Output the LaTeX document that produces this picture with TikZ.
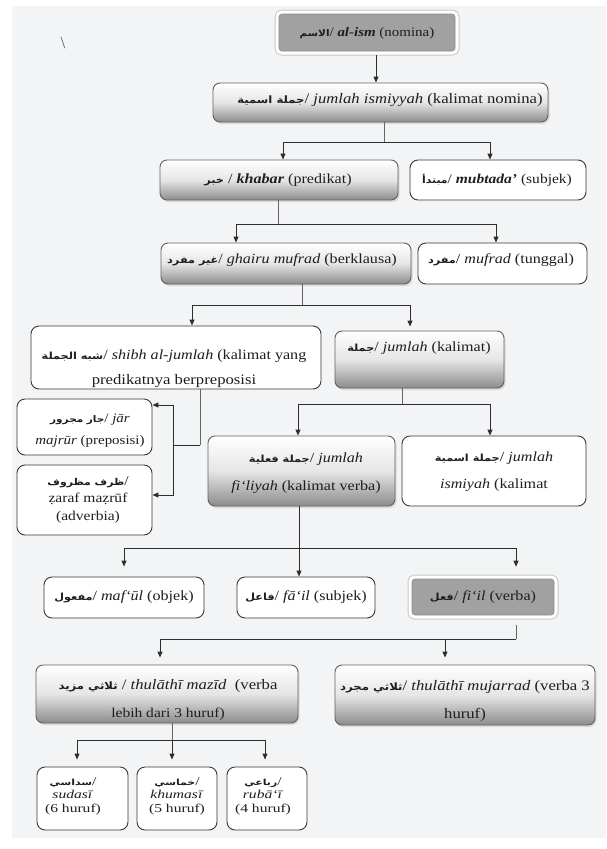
\documentclass[tikz,border=0pt]{standalone}
\usepackage{fontspec}
\usepackage{graphicx}
\setmainfont{Liberation Serif}
\newfontfamily\arabicfont[Script=Arabic,Scale=0.7]{DejaVu Sans}
\TeXXeTstate=1
\usetikzlibrary{arrows.meta,shadows}
\newcommand{\arb}[1]{{\arabicfont\bfseries\beginR #1\endR}}
\newcommand{\hx}[2][1.15]{\scalebox{#1}[1]{\begin{tabular}{@{}c@{}}#2\end{tabular}}}
\newcommand{\fs}[2]{\fontsize{#1}{#2}\selectfont}
\definecolor{bgc}{RGB}{243,244,245}
\definecolor{ink}{RGB}{30,30,30}
\begin{document}
\begin{tikzpicture}[x=1pt,y=-1pt,
  wbox/.style={draw=black!78, fill=white, rounded corners=8pt, line width=0.9pt, inner sep=0pt},
  gbox/.style={draw=black!62, rounded corners=7pt, line width=0.9pt, inner sep=0pt,
    top color=white, bottom color=black!45, middle color=black!10,
    drop shadow={shadow xshift=1.5pt, shadow yshift=-2pt, opacity=0.22}},
  dbox/.style={draw=black!45, fill=black!37, rounded corners=3pt, line width=0.6pt, inner sep=0pt,
    preaction={draw=black!22, line width=9pt}, preaction={draw=white, line width=7pt}},
  lnk/.style={draw=black!82, line width=0.9pt},
  stem/.style={draw=black!60, line width=0.9pt},
  arr/.style={lnk, -{Triangle[length=6pt,width=5pt]}},
  txt/.style={inner sep=0pt, text=ink}]
\useasboundingbox (0,0) rectangle (606,849);
\fill[white] (0,0) rectangle (606,849);
\fill[bgc] (12,6) rectangle (606,838);

\node[txt, text=black!65, font=\fs{17}{18}] (mark) at (63,43) {\textbackslash};

% boxes
\node[dbox, minimum width=176pt, minimum height=37pt] (alism) at (367,32.5) {};
\node[gbox, minimum width=335pt, minimum height=39pt] (jism) at (380.5,102.5) {};
\node[gbox, minimum width=238pt, minimum height=40pt] (khabar) at (279,180) {};
\node[wbox, minimum width=176pt, minimum height=40pt] (mubtada) at (498,180) {};
\node[gbox, minimum width=250pt, minimum height=41pt] (ghairu) at (286,263.5) {};
\node[wbox, minimum width=169pt, minimum height=41pt] (mufrad) at (502.5,263.5) {};
\node[wbox, minimum width=290pt, minimum height=63pt] (shibh) at (176,357.5) {};
\node[gbox, minimum width=169pt, minimum height=57pt] (jumlah) at (419.5,359.5) {};
\node[wbox, minimum width=135pt, minimum height=56pt] (jar) at (84.5,427) {};
\node[wbox, minimum width=135pt, minimum height=70pt] (zaraf) at (84.5,500) {};
\node[gbox, minimum width=187pt, minimum height=70pt] (filiyah) at (301.5,471) {};
\node[wbox, minimum width=184pt, minimum height=70pt] (ismiyah) at (494,471) {};
\node[wbox, minimum width=160pt, minimum height=41pt] (maful) at (124,597.5) {};
\node[wbox, minimum width=138pt, minimum height=41pt] (fail) at (306,597.5) {};
\node[dbox, minimum width=142pt, minimum height=36pt] (fiil) at (483,597) {};
\node[gbox, minimum width=262pt, minimum height=58pt] (mazid) at (167,694) {};
\node[gbox, minimum width=260pt, minimum height=60pt] (mujarrad) at (465,695) {};
\node[wbox, minimum width=91pt, minimum height=63pt] (sudasi) at (82.5,798.5) {};
\node[wbox, minimum width=80pt, minimum height=63pt] (khumasi) at (177,798.5) {};
\node[wbox, minimum width=80pt, minimum height=63pt] (rubai) at (267,798.5) {};

% texts
\node[txt, font=\fs{13}{15}] (t1) at (367,33) {\hx{\arb{الاسم}/ \textbf{\textit{al-ism}} (nomina)}};
\node[txt, font=\fs{14.5}{16}] (t2) at (390,100) {\hx{\arb{جملة اسمية}/ \textit{jumlah ismiyyah} (kalimat nomina)}};
\node[txt, font=\fs{14}{16}] (t3) at (278,180) {\hx{\arb{خبر} / \textbf{\textit{khabar}} (predikat)}};
\node[txt, font=\fs{13.5}{16}] (t4) at (497,180) {\hx{\arb{مبتدأ}/ \textbf{\textit{mubtada'}} (subjek)}};
\node[txt, font=\fs{14}{16}] (t5) at (282,260) {\hx{\arb{غير مفرد}/ \textit{ghairu mufrad} (berklausa)}};
\node[txt, font=\fs{14}{16}] (t6) at (501,260) {\hx{\arb{مفرد}/ \textit{mufrad} (tunggal)}};
\node[txt, font=\fs{14}{25}] (t7) at (174,367) {\hx{\arb{شبه الجملة}/ \textit{shibh al-jumlah} (kalimat yang\\ {\fs{14.5}{25}predikatnya berpreposisi}}};
\node[txt, font=\fs{14}{16}] (t8) at (419,348) {\hx{\arb{جملة}/ \textit{jumlah} (kalimat)}};
\node[txt, font=\fs{13}{22}] (t9) at (90,429) {\hx{\arb{جار مجرور}/ \textit{jār}\\ \textit{majrūr} (preposisi)}};
\node[txt, font=\fs{13.5}{17.5}] (t10) at (88,499) {\hx{\arb{ظرف مظروف}/\\ ẓaraf maẓrūf\\ (adverbia)}};
\node[txt, font=\fs{14}{28}] (t11) at (306,471) {\hx{\arb{جملة فعلية}/ \textit{jumlah}\\ \textit{fi‘liyah} (kalimat verba)}};
\node[txt, font=\fs{14}{27}] (t12) at (494,470) {\hx{\arb{جملة اسمية}/ \textit{jumlah}\\ \textit{ismiyah} (kalimat}};
\node[txt, font=\fs{14}{16}] (t13) at (124,597) {\hx{\arb{مفعول}/ \textit{maf‘ūl} (objek)}};
\node[txt, font=\fs{14}{16}] (t14) at (306,597) {\hx{\arb{فاعل}/ \textit{fā‘il} (subjek)}};
\node[txt, font=\fs{14}{16}] (t15) at (483,597) {\hx{\arb{فعل}/ \textit{fi‘il} (verba)}};
\node[txt, font=\fs{14.5}{28}] (t16) at (168,698) {\hx{\arb{ثلاثي مزيد} / \textit{thulāthī mazīd}\ \ (verba\\ {\fs{13.5}{28}lebih dari 3 huruf)}}};
\node[txt, font=\fs{14.5}{28}] (t17) at (465,699) {\hx{\arb{ثلاثي مجرد}/ \textit{thulāthī mujarrad} (verba 3\\ huruf)}};
\node[txt, font=\fs{12}{13.5}] (t18) at (73,796) {\hx[1.3]{\arb{سداسي}/\\ \textit{sudasī}\\ (6 huruf)}};
\node[txt, font=\fs{12}{13.5}] (t19) at (177,796) {\hx[1.3]{\arb{خماسي}/\\ \textit{khumasī}\\ (5 huruf)}};
\node[txt, font=\fs{12}{13.5}] (t20) at (263,796) {\hx[1.3]{\arb{رباعي}/\\ \textit{rubā‘ī}\\ (4 huruf)}};

% connectors
\coordinate (p1) at (376,0);
\draw[arr] (alism.south -| p1) ++(0,4) -- (jism.north -| p1);

\coordinate (j1) at (384,142);
\draw[stem] (jism.south -| j1) -- (j1);
\draw[arr] (j1) -| ([xshift=4pt]khabar.north);
\draw[arr] (j1) -| ([xshift=-8pt]mubtada.north);

\coordinate (k1) at (278,224);
\draw[stem] (khabar.south -| k1) -- (k1);
\draw[arr] (k1) -| ([xshift=-50pt]ghairu.north);
\draw[arr] (k1) -| ([xshift=-6.5pt]mufrad.north);

\coordinate (g1) at (302,305);
\draw[stem] (ghairu.south -| g1) -- (g1);
\draw[arr] (g1) -| ([xshift=16pt]shibh.north);
\draw[arr, shorten >=4pt] (g1) -| ([xshift=-9.5pt]jumlah.north);

\coordinate (s1) at (200,445);
\coordinate (s2) at (173,445);
\draw[stem] (shibh.south -| s1) -- (s1);
\draw[lnk] (s1) -- (s2);
\draw[arr] (s2) |- ([yshift=22pt]jar.east);
\draw[arr] (s2) |- ([yshift=5pt]zaraf.east);

\coordinate (u1) at (402,404);
\draw[stem] (jumlah.south -| u1) -- (u1);
\draw[arr] (u1) -| ([xshift=-3.5pt]filiyah.north);
\draw[arr] (u1) -| ([xshift=-4pt]ismiyah.north);

\coordinate (f1) at (299,548);
\draw[arr] (filiyah.south -| f1) -- (fail.north -| f1);
\draw[arr, shorten >=10pt] (f1) -| (maful.north);
\draw[arr, shorten >=12pt] (f1) -| ([xshift=33pt]fiil.north);

\coordinate (v1) at (516,639);
\draw[stem] ([xshift=33pt,yshift=-10pt]fiil.south) -- (v1);
\draw[arr, shorten >=7pt] (v1) -| ([xshift=-7pt]mazid.north);
\draw[arr, shorten >=7pt] (v1) -| ([xshift=-20pt]mujarrad.north);

\coordinate (m1) at (172,740);
\draw[stem] (mazid.south -| m1) -- (m1);
\draw[arr, shorten >=7pt] (m1) -| ([xshift=-5.5pt]sudasi.north);
\draw[arr, shorten >=7pt] (m1) -- (khumasi.north -| m1);
\draw[arr, shorten >=7pt] (m1) -| ([xshift=-2pt]rubai.north);
\end{tikzpicture}
\end{document}
